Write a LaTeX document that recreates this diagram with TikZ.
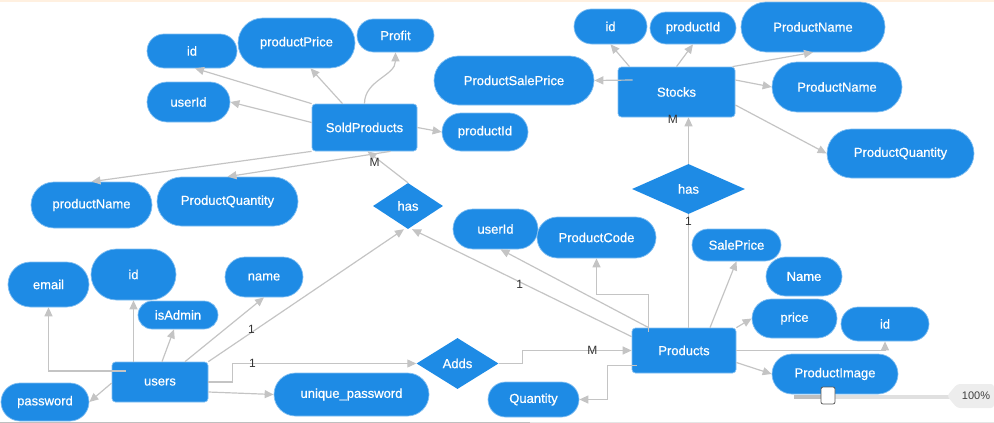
\documentclass[tikz,border=0pt]{standalone}
\usepackage{fontspec}
\setmainfont{Liberation Sans}
\newfontfamily\erfont{Liberation Sans}[FakeBold=0.6]
\usetikzlibrary{shapes.misc,shapes.geometric,arrows.meta}
\definecolor{erblue}{RGB}{30,139,229}
\definecolor{erline}{RGB}{196,196,196}

\begin{document}
\begin{tikzpicture}[x=1pt, y=-1pt,
		sz/.style 2 args={minimum width=#1pt, minimum height=#2pt},
		attr/.style={rounded rectangle, fill=erblue, draw=erblue!55!white, line width=0.7pt, text=white, inner sep=0pt, font=\erfont\fontsize{13}{15}\selectfont},
		ent/.style={rectangle, rounded corners=3.5pt, fill=erblue, draw=erblue!55!white, line width=0.7pt, text=white, inner sep=0pt, font=\erfont\fontsize{13}{15}\selectfont},
		rel/.style={diamond, fill=erblue, text=white, inner sep=0pt, font=\erfont\fontsize{13}{15}\selectfont},
		link/.style={draw=erline, line width=1.2pt, -{Triangle[length=9pt,width=8pt]}},
		lbl/.style={text=black!80, inner sep=0pt, font=\fontsize{12}{14}\selectfont}]
		\useasboundingbox (0,0) rectangle (994,423);
		\fill[orange!12] (0,0) rectangle (994,2);
		\draw[black!25] (0,422) -- (530,422);
		\draw[black!10] (530,422) -- (994,422);

		\node[ent, sz={105}{47}] (sold) at (364.5,127.5) {SoldProducts};
		\node[attr, sz={90}{34}] (sid) at (192,51) {id};
		\node[attr, sz={117}{50}] (sprice) at (296.5,43) {productPrice};
		\node[attr, sz={77}{33}] (sprofit) at (395.5,35.5) {Profit};
		\node[attr, sz={83}{40}] (suid) at (188.5,102) {userId};
		\node[attr, sz={86}{38}] (spid) at (485,132) {productId};
		\node[attr, sz={121}{46}] (sname) at (91.5,205) {productName};
		\node[attr, sz={141}{49}] (sqty) at (227.5,201.5) {ProductQuantity};
		\node[rel, sz={70}{46}] (hasa) at (408,206) {has};

		\node[ent, sz={117}{50}] (stocks) at (676.5,92) {Stocks};
		\node[attr, sz={73}{35}] (tid) at (610.5,26.5) {id};
		\node[attr, sz={86}{32}] (tpid) at (693,28) {productId};
		\node[attr, sz={144}{50}] (tname) at (813,27) {ProductName};
		\node[attr, sz={130}{50}] (tname2) at (837,87) {ProductName};
		\node[attr, sz={160}{49}] (tsale) at (514,80.5) {ProductSalePrice};
		\node[attr, sz={147}{49}] (tqty) at (900.5,153.5) {ProductQuantity};
		\node[rel, sz={113}{50}] (hasb) at (688.5,189) {has};

		\node[ent, sz={96}{40}] (users) at (160,382) {users};
		\node[attr, sz={81}{45}] (uemail) at (48.5,284.5) {email};
		\node[attr, sz={85}{51}] (uid) at (133.5,274.5) {id};
		\node[attr, sz={80}{28}] (uadmin) at (178,315) {isAdmin};
		\node[attr, sz={78}{40}] (uname) at (264,277) {name};
		\node[attr, sz={88}{38}] (upwd) at (45,402) {password};
		\node[attr, sz={155}{43}] (uupwd) at (351.5,394.5) {unique\_password};
		\node[rel, sz={82}{51}] (adds) at (457.5,363.5) {Adds};

		\node[ent, sz={104}{45}] (products) at (684,350.5) {Products};
		\node[attr, sz={85}{40}] (puid) at (495.5,229) {userId};
		\node[attr, sz={119}{41}] (pcode) at (596.5,237.5) {ProductCode};
		\node[attr, sz={89}{32}] (psale) at (736.5,245) {SalePrice};
		\node[attr, sz={76}{39}] (pname) at (804,276.5) {Name};
		\node[attr, sz={85}{39}] (pprice) at (794.5,318.5) {price};
		\node[attr, sz={88}{34}] (pid) at (885,324) {id};
		\node[attr, sz={126}{40}] (pimg) at (835,374) {ProductImage};
		\node[attr, sz={91}{35}] (pqty) at (533.5,399.5) {Quantity};

		\draw[link] (sold.north west) -- ([xshift=3pt]sid.south);
		\draw[link] ([yshift=5pt]sold.west) -- (suid.east);
		\draw[link] ([xshift=-22pt]sold.north) -- ([xshift=14pt]sprice.south);
		\draw[link] (sold.north) to[out=90, in=-90] (sprofit.south);
		\draw[link] (sold.east) -- (spid.west);
		\draw[link] (sold.south west) -- (sname.north);
		\draw[link] ([xshift=26pt]sold.south) -- (sqty.north);
		\draw[link] (hasa.north) -- ([xshift=3pt]sold.south) node[lbl, pos=0.66, left=1pt] {M};

		\draw[link] ([xshift=-47pt]stocks.north) -- (tid.south);
		\draw[link] (stocks.north) -- (tpid.south);
		\draw[link] ([xshift=-3pt]stocks.north east) -- (tname.south);
		\draw[link] ([yshift=12pt]stocks.east) -- (tname2.west);
		\draw[link] ([xshift=15pt,yshift=12pt]stocks.west) -- (tsale.east);
		\draw[link] ([yshift=-13pt]stocks.east) -- (tqty.west);
		\draw[link] (hasb.north) -- (hasb.north |- stocks.south) node[lbl, pos=0.96, left=10pt] {M};
		\draw[link, -] (hasb.south |- products.north) -- (hasb.south) node[lbl, pos=0.94] {1};

		\draw[link] ([xshift=14pt,yshift=11pt]users.west) -| (uemail.south);
		\draw[link] (users.north -| uid.south) -- (uid.south);
		\draw[link] ([xshift=2pt]users.north) -- ([xshift=-4pt]uadmin.south);
		\draw[link] ([xshift=25pt]users.north) -- (uname.south);
		\draw[link] (users.north east) -- ([xshift=-4pt]hasa.south) node[lbl, pos=0.22, yshift=3pt] {1};
		\draw[link] ([yshift=-1pt]users.west) -- (upwd.east);
		\draw[link] ([yshift=-10pt]users.east) -- (uupwd.west);
		\draw[link] (users.east) -- ++(24,0) |- (adds.west) node[lbl, pos=0.555] {1};

		\draw[link] (adds.east) -- ++(24,0) |- (products.west) node[lbl, pos=0.82] {M};
		\draw[link] ([yshift=-9pt]products.north west) -- ([xshift=4pt]hasa.south) node[lbl, pos=0.51, yshift=-3pt] {1};
		\draw[link] ([xshift=17pt]products.north west) -- ([xshift=5pt]puid.south);
		\draw[link] ([xshift=17pt,yshift=-4pt]products.north west) -- ++(0,-37) -| (pcode.south);
		\draw[link] ([xshift=26pt]products.north) -- (psale.south);
		\draw[link] (products.north east) -- (pprice.west);
		\draw[link] (products.east) -| (pid.south);
		\draw[link] ([yshift=-12pt]products.east) -- (pimg.west);
		\draw[link] ([xshift=5pt,yshift=-15pt]products.west) -- ++(-29,0) |- (pqty.east);

		\fill[black!12] (794,394.5) rectangle (951,398.5);
		\fill[black!25] (794,394.5) rectangle (826,398.5);
		\draw[black!65, fill=white, rounded corners=2pt, line width=0.8pt] (821,387) rectangle (835,404);
		\fill[black!7, rounded corners=3pt] (947,396) -- (957,384) -- (994,384) -- (994,408) -- (957,408) -- cycle;
		\node[text=black!75, font=\fontsize{11}{13}\selectfont] (zoomval) at (976,396) {100\%};
\end{tikzpicture}
\end{document}
